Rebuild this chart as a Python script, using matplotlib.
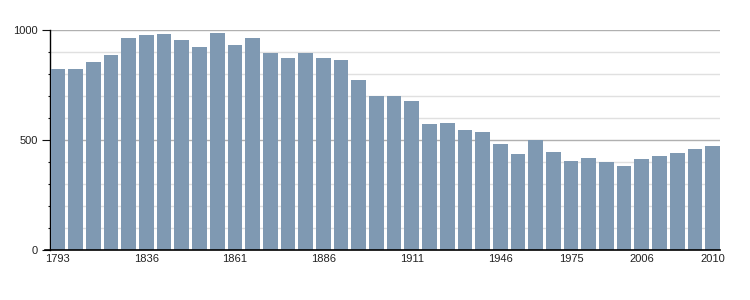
import matplotlib
matplotlib.use("Agg")
import matplotlib.pyplot as plt
from matplotlib.ticker import MultipleLocator, FixedLocator
import numpy as np

years = [1793, 1800, 1806, 1821, 1831, 1836, 1841, 1846, 1851, 1856,
         1861, 1866, 1872, 1876, 1881, 1886, 1891, 1896, 1901, 1906,
         1911, 1921, 1926, 1931, 1936, 1946, 1954, 1962, 1968, 1975,
         1982, 1990, 1999, 2006, 2007, 2008, 2009, 2010]
population = [826, 822, 854, 886, 963, 977, 982, 954, 922, 986,
              932, 963, 895, 872, 895, 872, 863, 776, 703, 699,
              676, 575, 580, 548, 539, 484, 438, 502, 447, 406,
              420, 402, 384, 415, 429, 443, 461, 475]
shown_years = [1793, 1836, 1861, 1886, 1911, 1946, 1975, 2006, 2010]

plt.rcParams["font.family"] = ["Liberation Sans", "DejaVu Sans"]

fig = plt.figure(figsize=(7.5, 3), dpi=100)
ax = fig.add_axes([50 / 750, 50 / 300, 670 / 750, 219.7 / 300])

x = np.arange(len(years))
ax.bar(x, population, width=0.83, color="#7f99b2", zorder=3)

ax.set_xlim(-0.45, len(years) - 1 + 0.42)
ax.set_ylim(0, 1000)

ax.yaxis.set_major_locator(MultipleLocator(500))
ax.yaxis.set_minor_locator(MultipleLocator(100))
ax.grid(which="major", axis="y", color="#b0b0b0", lw=1, zorder=1)
ax.grid(which="minor", axis="y", color="#e0e0e0", lw=1, zorder=1)
ax.tick_params(axis="y", which="major", length=5.8, width=0.8, color="#111111",
               labelsize=8, pad=3, labelcolor="#222222")
ax.tick_params(axis="y", which="minor", length=1.8, width=0.8, color="#111111")

pos = [years.index(y) for y in shown_years]
ax.xaxis.set_major_locator(FixedLocator(pos))
ax.set_xticklabels([str(y) for y in shown_years])
ax.tick_params(axis="x", length=0, labelsize=8, pad=3, labelcolor="#222222")

for s in ["top", "right"]:
    ax.spines[s].set_visible(False)
ax.spines["left"].set_linewidth(1)
ax.spines["bottom"].set_linewidth(1.2)
ax.spines["bottom"].set_bounds(-0.75, len(years) - 1 + 0.42)
ax.spines["bottom"].set_zorder(4)

fig.savefig("out.png", dpi=100)
